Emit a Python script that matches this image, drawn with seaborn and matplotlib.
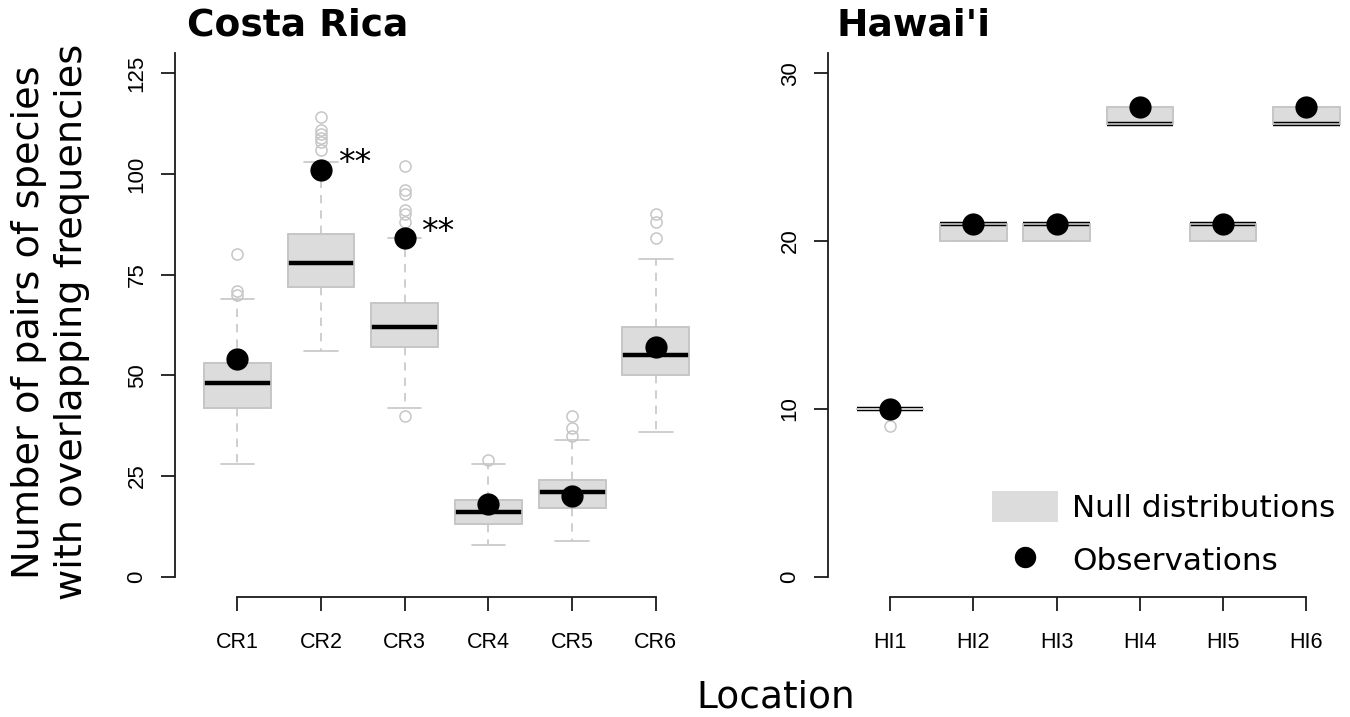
import numpy as np
import pandas as pd
import matplotlib
matplotlib.use("Agg")
import matplotlib.pyplot as plt
import seaborn as sns
from matplotlib.patches import Patch
from matplotlib.lines import Line2D

# ---- values ----
cr_sites = ["CR1", "CR2", "CR3", "CR4", "CR5", "CR6"]
cr_wlo = [28, 56, 42, 8, 9, 36]
cr_q1 = [42, 72, 57, 13, 17, 50]
cr_med = [48, 78, 62, 16, 21, 55]
cr_q3 = [53, 85, 68, 19, 24, 62]
cr_whi = [69, 103, 84, 28, 34, 79]
cr_out = [[70, 71, 80],
          [106, 108, 109, 110, 111, 114],
          [40, 88, 90, 91, 95, 96, 102],
          [29],
          [35, 37, 40],
          [84, 88, 90]]
cr_obs = [54, 101, 84, 18, 20, 57]
cr_signif = ["", "**", "**", "", "", ""]

hi_sites = ["HI1", "HI2", "HI3", "HI4", "HI5", "HI6"]
hi_wlo = [10, 20, 20, 27, 20, 27]
hi_q1 = [10, 20, 20, 27, 20, 27]
hi_med = [10, 21, 21, 27, 21, 27]
hi_q3 = [10, 21, 21, 28, 21, 28]
hi_whi = [10, 21, 21, 28, 21, 28]
hi_out = [[9], [], [], [], [], []]
hi_obs = [10, 21, 21, 28, 21, 28]

cr_yticks = [0, 25, 50, 75, 100, 125]
hi_yticks = [0, 10, 20, 30]

box_fill = "#dcdcdc"
box_line = "#c6c6c6"
axis_col = "#1a1a1a"
tick_font = "Liberation Sans"


def null_sample(wlo, q1, med, q3, whi, out):
    # lay the read summary values out so the quartiles come back exactly
    lower = sorted([wlo] + [v for v in out if v < q1])
    upper = sorted([whi] + [v for v in out if v > q3])
    m = max(len(lower), len(upper))
    lower = lower + [q1] * (m - len(lower))
    upper = [q3] * (m - len(upper)) + upper
    return lower + [q1] + [med] * (2 * m - 1) + [q3] + upper


def long_table(sites, wlo, q1, med, q3, whi, out):
    rows = []
    for i, s in enumerate(sites):
        for v in null_sample(wlo[i], q1[i], med[i], q3[i], whi[i], out[i]):
            rows.append((s, v))
    return pd.DataFrame(rows, columns=["site", "pairs"])


def draw_panel(ax, df, sites, obs):
    sns.boxplot(data=df, x="site", y="pairs", order=sites, ax=ax, width=0.8,
                color=box_fill, linecolor=box_line, linewidth=1.2, saturation=1,
                whis=1.5,
                medianprops=dict(color="black", linewidth=3.2, solid_capstyle="butt"),
                whiskerprops=dict(color=box_line, linestyle=(0, (5, 4.2))),
                capprops=dict(color=box_line),
                flierprops=dict(marker="o", markersize=8, markerfacecolor="none",
                                markeredgecolor=box_line, markeredgewidth=1.1))
    # box border drawn again on top of the median, as base R does
    sns.boxplot(data=df, x="site", y="pairs", order=sites, ax=ax, width=0.8,
                fill=False, color=box_line, linewidth=1.2, saturation=1, whis=1.5,
                showfliers=False, showcaps=False,
                boxprops=dict(zorder=2.3),
                medianprops=dict(visible=False), whiskerprops=dict(visible=False))
    sns.stripplot(x=sites, y=obs, order=sites, ax=ax, jitter=False,
                  color="black", size=16, linewidth=0, zorder=5)


def style_axes(ax, yticks, ylim, labels):
    ax.set_xlim(-0.74, len(labels) - 0.26)
    ax.set_ylim(*ylim)
    ax.set(xlabel="", ylabel="")
    ax.set_yticks(yticks)
    ax.set_yticklabels([str(t) for t in yticks], rotation=90, va="center",
                       fontfamily=tick_font, fontsize=16, color="black")
    ax.set_xticks(range(len(labels)))
    ax.set_xticklabels(labels, fontfamily=tick_font, fontsize=15.5, color="black")
    for s in ["top", "right"]:
        ax.spines[s].set_visible(False)
    for s in ["left", "bottom"]:
        ax.spines[s].set_color(axis_col)
        ax.spines[s].set_linewidth(1.3)
    ax.spines["left"].set_bounds(0, ylim[1])
    ax.spines["bottom"].set_bounds(0, len(labels) - 1)
    ax.tick_params(bottom=True, left=True, length=10, width=1.3, color=axis_col)
    ax.tick_params(axis="x", pad=15)
    ax.tick_params(axis="y", pad=10)


sns.set_style("white")
plt.rcParams["font.family"] = ["DejaVu Sans"]
plt.rcParams["text.color"] = "black"

fig = plt.figure(figsize=(13.5, 7.17), dpi=100)
ax1 = fig.add_axes([175.4 / 1350, 120 / 717, 542.3 / 1350, 544 / 717])
ax2 = fig.add_axes([828.4 / 1350, 120 / 717, 539.6 / 1350, 544 / 717])

cr_df = long_table(cr_sites, cr_wlo, cr_q1, cr_med, cr_q3, cr_whi, cr_out)
hi_df = long_table(hi_sites, hi_wlo, hi_q1, hi_med, hi_q3, hi_whi, hi_out)

draw_panel(ax1, cr_df, cr_sites, cr_obs)
draw_panel(ax2, hi_df, hi_sites, hi_obs)

for i, star in enumerate(cr_signif):
    if star:
        ax1.text(i + 0.2, cr_obs[i] + 1.5, star, fontsize=24, ha="left",
                 va="center", color="black")

style_axes(ax1, cr_yticks, (-5, 130), cr_sites)
style_axes(ax2, hi_yticks, (-1.2, 31.2), hi_sites)

fig.text(187 / 1350, 1 - 35 / 717, "Costa Rica", fontsize=27, fontweight="bold",
         ha="left", va="baseline")
fig.text(837 / 1350, 1 - 35 / 717, "Hawai'i", fontsize=27, fontweight="bold",
         ha="left", va="baseline")
fig.text(51 / 1350, 1 - 322 / 717,
         "Number of pairs of species\nwith overlapping frequencies",
         fontsize=27.5, rotation=90, ha="center", va="center", linespacing=1.25)
fig.text(776 / 1350, 1 - 697 / 717, "Location", fontsize=27, ha="center", va="center")

handles = [Patch(facecolor=box_fill, edgecolor="none"),
           Line2D([], [], marker="o", linestyle="none", color="black", markersize=14.4)]
ax2.legend(handles, ["Null distributions", "Observations"], loc="upper left",
           bbox_to_anchor=(992 / 1350, 1 - 491 / 717), bbox_transform=fig.transFigure,
           frameon=False, fontsize=22.4, handlelength=2.12, handleheight=1.16,
           handletextpad=0.45, labelspacing=0.68, borderpad=0, borderaxespad=0)

fig.savefig("out.png", dpi=100)
